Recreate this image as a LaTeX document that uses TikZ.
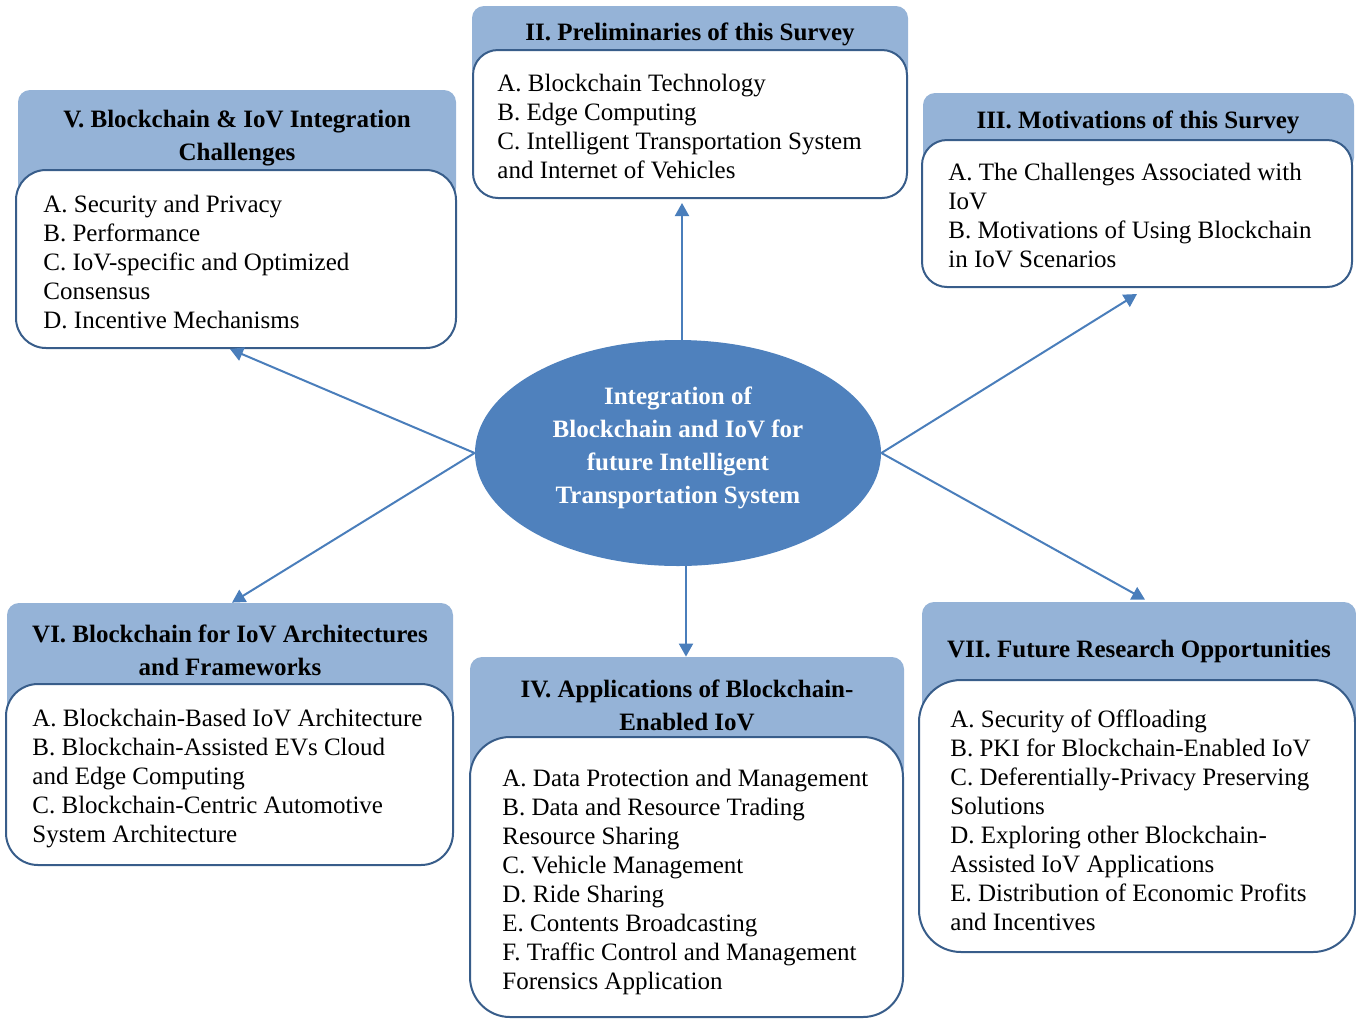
\documentclass[tikz,border=0pt]{standalone}
\usepackage{fontspec}
\setmainfont{Liberation Serif}
\usetikzlibrary{shapes.geometric,fit,arrows.meta}
\definecolor{hdr}{HTML}{95B3D7}
\definecolor{bord}{HTML}{385D8A}
\definecolor{ellc}{HTML}{4F81BD}
\definecolor{arrc}{HTML}{4A7EBB}
\tikzset{
  hdrbox/.style={fit={#1}, inner sep=0pt, fill=hdr, rounded corners=6pt},
  bodybox/.style={fit={#1}, inner sep=0pt, fill=white, draw=bord, line width=1pt},
  bodytxt/.style={anchor=north west, align=left, inner sep=0pt, font=\fontsize{12.5}{14.5}\selectfont},
  hdrtxt/.style={align=center, inner sep=0pt, font=\fontsize{12.5}{16.5}\selectfont\bfseries},
  conn/.style={draw=arrc, line width=1pt, -{Triangle[length=6.5pt,width=7pt]}}
}
\begin{document}
\begin{tikzpicture}[x=0.5pt,y=-0.5pt]
\useasboundingbox (0,0) rectangle (1356,1019);

% II
\node[hdrbox={(472,6) (908,80)}] (IIh) {};
\node[bodybox={(473,50) (907,198)}, rounded corners=12.5pt] (IIb) {};
\node[hdrtxt] (IIt) at (690,34) {II. Preliminaries of this Survey};
\node[bodytxt] (IIx) at (497,74) {A. Blockchain Technology\\B. Edge Computing\\C. Intelligent Transportation System\\and Internet of Vehicles};

% III
\node[hdrbox={(923,93) (1354,170)}] (IIIh) {};
\node[bodybox={(922,140) (1352,287)}, rounded corners=12.5pt] (IIIb) {};
\node[hdrtxt] (IIIt) at (1138,122) {III. Motivations of this Survey};
\node[bodytxt] (IIIx) at (948,163) {A. The Challenges Associated with\\IoV\\B. Motivations of Using Blockchain\\in IoV Scenarios};

% V
\node[hdrbox={(18,90) (456,200)}] (Vh) {};
\node[bodybox={(16,170) (456,348)}, rounded corners=15pt] (Vb) {};
\node[hdrtxt] (Vt) at (237,138) {V. Blockchain \& IoV Integration\\Challenges};
\node[bodytxt] (Vx) at (43,195) {A. Security and Privacy\\B. Performance\\C. IoV-specific and Optimized\\Consensus\\D. Incentive Mechanisms};

% VI
\node[hdrbox={(7,603) (453,720)}] (VIh) {};
\node[bodybox={(6,684) (453,865)}, rounded corners=16pt] (VIb) {};
\node[hdrtxt] (VIt) at (230,650) {VI. Blockchain for IoV Architectures\\and Frameworks};
\node[bodytxt] (VIx) at (32,709) {A. Blockchain-Based IoV Architecture\\B. Blockchain-Assisted EVs Cloud\\and Edge Computing\\C. Blockchain-Centric Automotive\\System Architecture};

% IV
\node[hdrbox={(470,657) (904,780)}] (IVh) {};
\node[bodybox={(470,737) (903,1017)}, rounded corners=20pt] (IVb) {};
\node[hdrtxt] (IVt) at (687,705) {IV. Applications of Blockchain-\\Enabled IoV};
\node[bodytxt] (IVx) at (502,769) {A. Data Protection and Management\\B. Data and Resource Trading\\Resource Sharing\\C. Vehicle Management\\D. Ride Sharing\\E. Contents Broadcasting\\F. Traffic Control and Management\\Forensics Application};

% VII
\node[hdrbox={(922,602) (1356,740)}] (VIIh) {};
\node[bodybox={(919,680) (1355,952)}, rounded corners=21pt] (VIIb) {};
\node[hdrtxt] (VIIt) at (1139,651) {VII. Future Research Opportunities};
\node[bodytxt] (VIIx) at (950,709) {A. Security of Offloading\\B. PKI for Blockchain-Enabled IoV\\C. Deferentially-Privacy Preserving\\Solutions\\D. Exploring other Blockchain-\\Assisted IoV Applications\\E. Distribution of Economic Profits\\and Incentives};

% centre
\node[ellipse, fill=ellc, minimum width=203pt, minimum height=113pt, inner sep=0pt] (c) at (678,453) {};
\node[hdrtxt, text=white] (ct) at (678,448) {Integration of\\Blockchain and IoV for\\future Intelligent\\Transportation System};

% connectors
\draw[conn, shorten >=2pt] ([xshift=2pt]c.north) -- ([xshift=2pt]c.north |- IIb.south);
\draw[conn] (c.east) -- ([yshift=-3pt]IIIb.south);
\draw[conn] (c.west) -- ([xshift=-3pt]Vb.south);
\draw[conn] (c.west) -- ([xshift=1pt]VIh.north);
\draw[conn] ([xshift=4pt]c.south) -- ([xshift=4pt]c.south |- IVh.north);
\draw[conn] (c.east) -- ([xshift=3pt,yshift=1pt]VIIh.north);
\end{tikzpicture}
\end{document}
